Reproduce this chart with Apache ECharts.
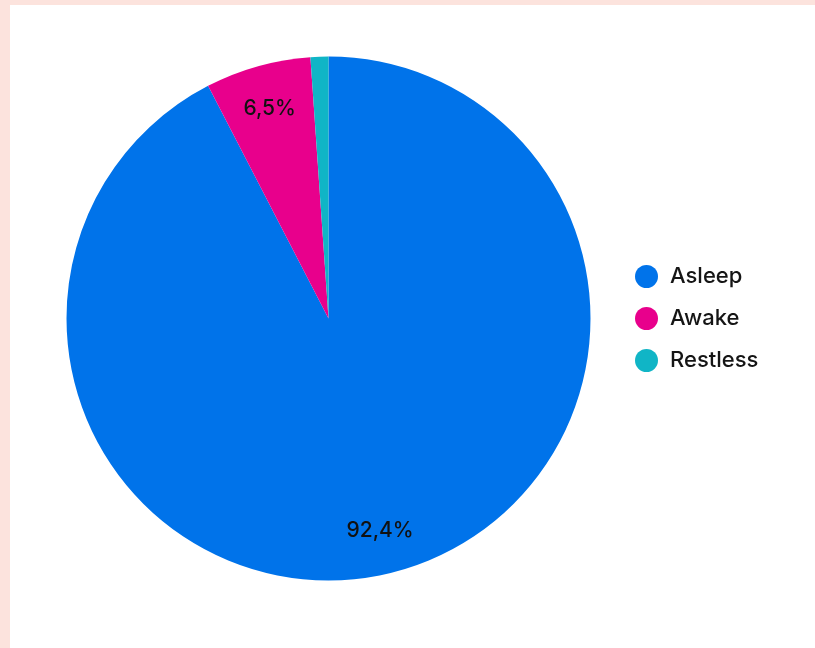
<!DOCTYPE html>
<html>
<head>
<meta charset="utf-8">
<script src="https://cdn.jsdelivr.net/npm/echarts@6/dist/echarts.min.js"></script>
<style>
  html, body { margin: 0; padding: 0; width: 815px; height: 648px; background: #fce3dd; overflow: hidden; }
  #chart { position: absolute; left: 10px; top: 5px; width: 805px; height: 643px; background: #ffffff; }
</style>
</head>
<body>
<div id="chart"></div>
<script>
// Sleep stage shares (percent of the night)
const categories = ['Asleep', 'Awake', 'Restless'];
const shares = [92.4, 6.5, 1.1];
const colors = ['#0073ea', '#e8008c', '#10b5c6'];

const pieData = categories.map((name, i) => ({ name, value: shares[i] }));
const fmt = p => p.value.toFixed(1).replace('.', ',') + '%';
const font = 'Inter, "Noto Sans", sans-serif';

const chart = echarts.init(document.getElementById('chart'), null, { renderer: 'canvas' });
chart.setOption({
  animation: false,
  color: colors,
  legend: {
    orient: 'vertical',
    left: 620,
    top: 255,
    icon: 'circle',
    itemWidth: 23,
    itemHeight: 23,
    itemGap: 19,
    selectedMode: false,
    data: categories,
    textStyle: { fontFamily: font, fontSize: 22, fontWeight: 500, color: '#151515', padding: [0, 0, 0, 7] }
  },
  series: [
    {
      // the slices themselves
      type: 'pie',
      center: [318.5, 313.5],
      radius: [0, 262],
      startAngle: 90,
      clockwise: true,
      label: { show: false },
      labelLine: { show: false },
      silent: true,
      data: pieData
    },
    {
      // invisible ring that places the percentage labels further out
      type: 'pie',
      center: [318.5, 313.5],
      radius: [168, 262],
      startAngle: 90,
      clockwise: true,
      silent: true,
      minShowLabelAngle: 10,
      itemStyle: { color: 'rgba(0,0,0,0)' },
      label: {
        show: true,
        position: 'inside',
        formatter: fmt,
        fontFamily: font,
        fontSize: 21,
        fontWeight: 500,
        color: '#111111'
      },
      labelLine: { show: false },
      data: pieData
    }
  ]
});
</script>
</body>
</html>
